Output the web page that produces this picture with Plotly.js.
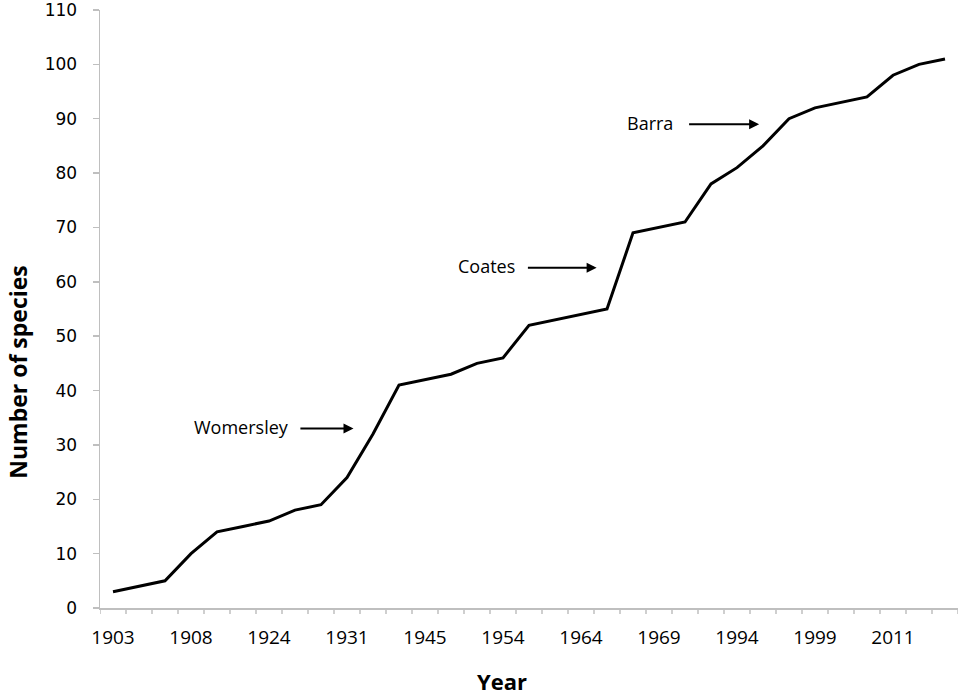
<!DOCTYPE html>
<html>
<head>
<meta charset="utf-8">
<script src="https://cdn.plot.ly/plotly-3.0.1.min.js"></script>
<style>html,body{margin:0;padding:0;background:#fff;}#chart{width:961px;height:699px;}</style>
</head>
<body>
<div id="chart"></div>
<script>
// Cumulative number of species, one value per recorded year (33 categories)
const species = [3, 4, 5, 10, 14, 15, 16, 18, 19, 24, 32, 41, 42, 43, 45, 46, 52, 53, 54, 55, 69, 70, 71, 78, 81, 85, 90, 92, 93, 94, 98, 100, 101];
// Year labels shown on every third category
const tickLabels = ['1903', '1908', '1924', '1931', '1945', '1954', '1964', '1969', '1994', '1999', '2011'];
const labelStep = 3;
// Annotation labels
const notes = ['Womersley', 'Coates', 'Barra'];
const xTitle = 'Year';
const yTitle = 'Number of species';

const xIdx = species.map((_, i) => i);
const tickVals = tickLabels.map((_, i) => i * labelStep);

const noteText = [
  {text: notes[0], x: 4.95, y: 33.3},
  {text: notes[1], x: 14.35, y: 63},
  {text: notes[2], x: 20.65, y: 89.3}
];
const noteArrow = [
  {x0: 7.15, x1: 9.25, y: 33},
  {x0: 15.9, x1: 18.6, y: 62.6},
  {x0: 22.1, x1: 24.85, y: 89}
];

const F = 'Open Sans, sans-serif';
const annotations = [];
noteText.forEach(n => annotations.push({
  x: n.x, y: n.y, xref: 'x', yref: 'y', text: n.text, showarrow: false,
  font: {family: F, size: 18, color: '#000'}
}));
noteArrow.forEach(a => annotations.push({
  x: a.x1, y: a.y, ax: a.x0, ay: a.y, xref: 'x', yref: 'y', axref: 'x', ayref: 'y',
  text: '', showarrow: true, arrowhead: 2, arrowsize: 1, arrowwidth: 2, arrowcolor: '#000'
}));
annotations.push({
  text: xTitle, xref: 'paper', yref: 'paper', x: 0.4685, y: -0.15,
  xanchor: 'center', yanchor: 'bottom',
  showarrow: false, font: {family: F, size: 22, color: '#000', weight: 'bold'}
});
annotations.push({
  text: yTitle, xref: 'paper', yref: 'paper', x: -0.0956, y: 0.395, textangle: -90,
  xanchor: 'center', yanchor: 'middle',
  showarrow: false, font: {family: F, size: 23, color: '#000', weight: 'bold'}
});

const trace = {
  x: xIdx, y: species, type: 'scatter', mode: 'lines',
  line: {color: '#000', width: 3}, hoverinfo: 'skip'
};

// Excel-style category boundary tick marks below the x axis
const plotH = 699 - 10 - 91;
const tickLenPx = 6;
const shapes = species.map((_, i) => i - 0.5).concat([species.length - 0.5]).map(b => ({
  type: 'line', xref: 'x', yref: 'paper', x0: b, x1: b, y0: 0, y1: -tickLenPx / plotH,
  line: {color: '#BFBFBF', width: 1.5}
}));

const layout = {
  width: 961, height: 699,
  margin: {l: 100, r: 3, t: 10, b: 91},
  paper_bgcolor: '#fff', plot_bgcolor: '#fff',
  showlegend: false,
  xaxis: {
    range: [-0.5, species.length - 0.5],
    tickmode: 'array', tickvals: tickVals, ticktext: tickLabels,
    showgrid: false, zeroline: false,
    showline: true, linecolor: '#BFBFBF', linewidth: 1.5,
    ticks: '', ticklabelstandoff: 12,
    tickfont: {family: F, size: 19, color: '#000'}
  },
  yaxis: {
    range: [0, 110], tickmode: 'linear', tick0: 0, dtick: 10,
    showgrid: false, zeroline: false,
    showline: true, linecolor: '#BFBFBF', linewidth: 1.5,
    ticks: 'outside', ticklen: 6, tickcolor: '#BFBFBF', tickwidth: 1.5,
    ticklabelstandoff: 12, ticklabeloverflow: 'allow',
    tickfont: {family: 'DejaVu Sans, sans-serif', size: 17, color: '#000'}
  },
  annotations: annotations,
  shapes: shapes
};

Plotly.newPlot('chart', [trace], layout, {displayModeBar: false, staticPlot: true});
</script>
</body>
</html>
